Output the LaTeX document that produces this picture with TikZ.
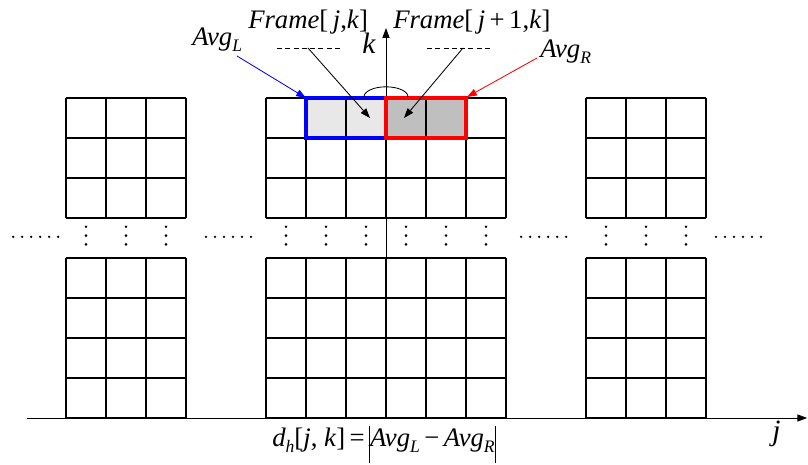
\documentclass[tikz,border=0pt]{standalone}
\usepackage{fontspec}
\setmainfont{Liberation Serif}
\usetikzlibrary{positioning,arrows.meta,calc}
\definecolor{avgLcol}{HTML}{0000FF}
\definecolor{avgRcol}{HTML}{FF0000}
\newcommand{\lowidx}[1]{\raisebox{-0.5ex}{\fontsize{12.5}{12.5}\selectfont\textit{#1}}}
\newcommand{\absbar}{\rule[-1.3ex]{0.6pt}{3ex}}

\begin{document}
\begin{tikzpicture}[
    cellgrid/.style={line width=0.8pt, step=1},
    lbl/.style={font=\fontsize{19}{21}\selectfont, inner sep=0pt, anchor=base west},
    tip/.style={-{Triangle[length=7pt,width=5pt]}, line width=0.6pt},
    selbox/.style={line width=2.4pt},
    dashrule/.style={dashed, dash pattern=on 3.5pt off 2.4pt, line width=0.6pt}
  ]
  \useasboundingbox (0,0) rectangle (20.2,11.6);

  % shaded cells
  \fill[black!9] (7.65,8.15) rectangle (9.65,9.15);
  \fill[black!25] (9.65,8.15) rectangle (11.65,9.15);

  % frame blocks
  \foreach \bx/\bw in {1.65/3, 6.65/6, 14.65/3} {
    \draw[cellgrid, shift={(\bx,6.15)}] (0,0) grid (\bw,3);
    \draw[cellgrid, shift={(\bx,1.15)}] (0,0) grid (\bw,4);
  }

  % vertical dots
  \foreach \x in {2.15,3.15,4.15,7.15,8.15,9.15,10.15,11.15,12.15,15.15,16.15,17.15}
    \foreach \y in {5.49,5.71,5.93}
      \fill (\x,\y) circle (1pt);
  % horizontal dots
  \foreach \sx in {0.33,5.15,13.03,17.9}
    \foreach \i in {0,...,5}
      \fill ({\sx+0.225*\i},5.68) circle (0.9pt);

  % axes
  \coordinate (jstart) at (0.675,1.15);
  \coordinate (jend) at (20.18,1.15);
  \coordinate (kstart) at (9.65,1.15);
  \coordinate (kend) at (9.65,10.9);
  \draw[tip] (jstart) -- (jend);
  \draw[tip] (kstart) -- (kend);

  % selected windows
  \draw[selbox, avgLcol] (7.65,8.15) rectangle (9.65,9.15);
  \draw[selbox, avgRcol] (9.65,8.15) rectangle (11.65,9.15);
  \draw[line width=0.6pt] (9.1,9.18) arc (180:0:0.55 and 0.25);

  % labels
  \node[lbl] (frameL) at (6.2,10.875) {\textit{Frame}[\,\textit{j},\textit{k}]};
  \node[lbl] (frameR) at (9.825,10.875) {\textit{Frame}[\,\textit{j}\,+\,1,\textit{k}]};
  \node[lbl] (avgL) at (4.8,10.46) {\textit{Avg}\lowidx{L}};
  \node[lbl] (avgR) at (13.5,10.16) {\textit{Avg}\lowidx{R}};
  \node[lbl, font=\fontsize{21}{23}\selectfont] (klbl) at (9.05,10.25) {\textit{k}};
  \node[lbl, font=\fontsize{21}{23}\selectfont] (jlbl) at (19.3,0.6) {\textit{j}};
  \node[lbl] (dh) at (6.8,0.43)
    {\textit{d}\lowidx{h}[\textit{j}, \textit{k}]\,=\,\absbar\textit{Avg}\lowidx{L}\,−\,\textit{Avg}\lowidx{R}\absbar};

  % pointers
  \coordinate (dashL) at (7.7,10.4);
  \coordinate (dashR) at (11.575,10.4);
  \coordinate (cellL) at (9.25,8.65);
  \coordinate (cellR) at (10.1,8.65);
  \draw[dashrule] (6.925,10.4) -- (8.575,10.4);
  \draw[dashrule] (10.675,10.4) -- (12.325,10.4);
  \draw[tip] (dashL) -- (cellL);
  \draw[tip] (dashR) -- (cellR);
  \coordinate (avgLfoot) at (5.925,10.2);
  \coordinate (avgRfoot) at (13.425,10.15);
  \coordinate (boxLcorner) at (7.65,9.15);
  \coordinate (boxRcorner) at (11.675,9.175);
  \draw[tip, avgLcol] (avgLfoot) -- (boxLcorner);
  \draw[tip, avgRcol] (avgRfoot) -- (boxRcorner);
\end{tikzpicture}
\end{document}
